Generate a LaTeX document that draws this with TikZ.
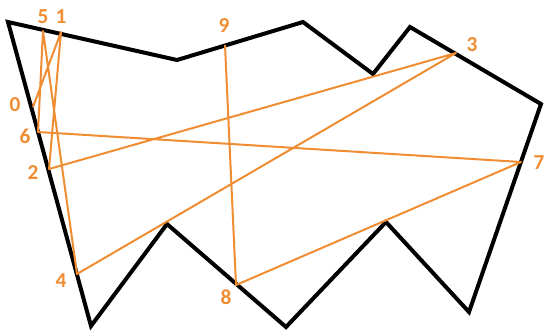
\documentclass[tikz,border=0pt]{standalone}
\usepackage{fontspec}
\setmainfont{Carlito}
\definecolor{pathorange}{RGB}{240,140,50}
\tikzset{outline/.style={draw=black,line width=3pt,line join=miter},
  route/.style={draw=pathorange,line width=1.5pt,line join=round},
  tag/.style={text=pathorange,font=\bfseries\fontsize{16}{18}\selectfont,inner sep=0pt}}

\begin{document}
\begin{tikzpicture}[x=0.75pt,y=-0.75pt]
  \path[use as bounding box] (0,0) rectangle (544,330);
  \draw[outline] (8,22) -- (177,60) -- (303,22) -- (373,74) -- (410,27) -- (541,104)
    -- (469,312) -- (386,222) -- (286,327) -- (167,224) -- (91,326) -- cycle;
  \coordinate (p0) at (33,107);
  \coordinate (p1) at (61,32);
  \coordinate (p2) at (49,169);
  \coordinate (p3) at (456,53);
  \coordinate (p4) at (77,274);
  \coordinate (p5) at (43,31);
  \coordinate (p6) at (38,132);
  \coordinate (p7) at (521,162);
  \coordinate (p8) at (236,285);
  \coordinate (p9) at (225,45);
  \draw[route] (p0) -- (p1) -- (p2) -- (p3) -- (p4) -- (p5) -- (p6) -- (p7) -- (p8) -- (p9);
  \node[tag] (t0) at (15,105) {0};
  \node[tag] (t1) at (61,17) {1};
  \node[tag] (t2) at (33,172) {2};
  \node[tag] (t3) at (472,45) {3};
  \node[tag] (t4) at (61,281) {4};
  \node[tag] (t5) at (43,17) {5};
  \node[tag] (t6) at (25,136) {6};
  \node[tag] (t7) at (539,163) {7};
  \node[tag] (t8) at (226,297) {8};
  \node[tag] (t9) at (224,25) {9};
\end{tikzpicture}
\end{document}
